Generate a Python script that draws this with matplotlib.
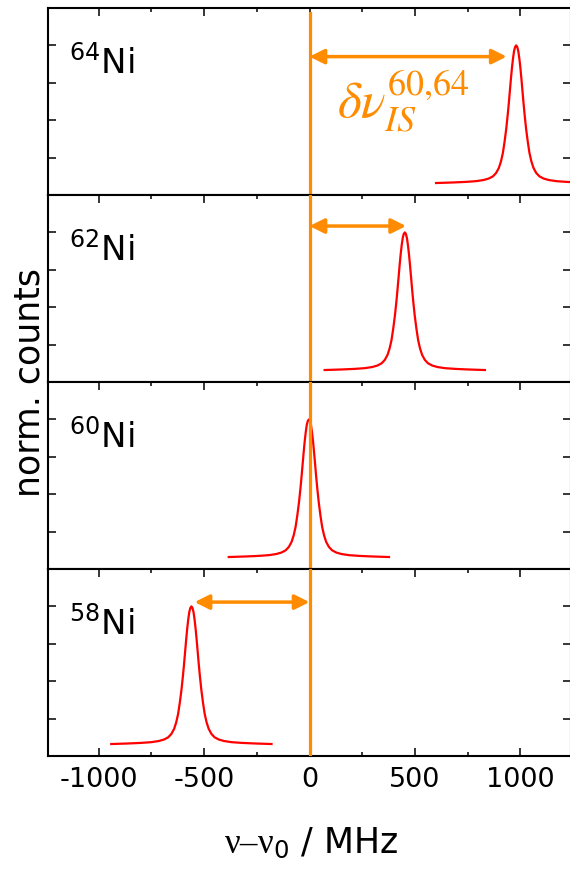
import numpy as np
import matplotlib
matplotlib.use('Agg')
import matplotlib.pyplot as plt
from matplotlib.ticker import MultipleLocator

# isotopes from top to bottom and their line centres (MHz)
isotopes = ['64', '62', '60', '58']
centers = [980, 452, -3, -560]

# line profile (offset from centre in MHz, panel height)
profile_offset = [-380, -300, -240, -190, -155, -130, -110, -95, -82, -72, -63, -55,
                  -47, -40, -35, -30, -25, -20, -15, -10, -5, 0,
                  5, 10, 15, 20, 25, 30, 35, 40, 47, 55, 63, 72, 82, 95, 110,
                  130, 155, 190, 240, 300, 380]
profile_height = [0.064, 0.067, 0.070, 0.074, 0.080, 0.088, 0.100, 0.118, 0.145, 0.180,
                  0.225, 0.285, 0.355, 0.430, 0.490, 0.555, 0.620, 0.680, 0.730, 0.770,
                  0.792, 0.800,
                  0.792, 0.770, 0.730, 0.680, 0.620, 0.555, 0.490, 0.430, 0.355, 0.285,
                  0.225, 0.180, 0.145, 0.118, 0.100, 0.088, 0.080, 0.074, 0.070, 0.067,
                  0.064]

# isotope shift arrows: (start, end, height) per panel, None where absent
arrows = [(0, 935, 0.74), (0, 458, 0.834), None, (-545, 0, 0.823)]
xticks = [-1000, -500, 0, 500, 1000]

orange = '#ff8c00'
plt.rcParams['font.family'] = ['DejaVu Sans']
plt.rcParams['mathtext.fontset'] = 'dejavusans'
plt.rcParams['mathtext.rm'] = 'Liberation Serif'
plt.rcParams['mathtext.it'] = 'Liberation Serif:italic'

fig = plt.figure(figsize=(5.7, 8.69), dpi=100)
left, width = 48 / 570, 523 / 570
ph = 187 / 869
top = 1 - 8 / 869

axes = []
for i in range(4):
    ax = fig.add_axes([left, top - (i + 1) * ph, width, ph])
    axes.append(ax)
    x = np.array(profile_offset) + centers[i]
    ax.plot(x, profile_height, color='red', lw=1.6, zorder=2)
    ymax = 0.973 if i == 0 else 1.0
    ax.axvline(0, ymin=0, ymax=ymax, color=orange, lw=2.3, zorder=3)
    ax.set_xlim(-1240, 1240)
    ax.set_ylim(0, 1)
    ax.set_yticks([0.2, 0.4, 0.6, 0.8])
    ax.xaxis.set_major_locator(MultipleLocator(500))
    ax.xaxis.set_minor_locator(MultipleLocator(250))
    ax.tick_params(axis='both', which='both', direction='in', width=1.1,
                   top=True, right=True, labelleft=False)
    ax.tick_params(axis='x', which='major', length=6)
    ax.tick_params(axis='x', which='minor', length=3)
    ax.tick_params(axis='y', which='major', length=5.5)
    if i < 3:
        ax.tick_params(axis='x', which='both', bottom=False, labelbottom=False)
    else:
        ax.set_xticks(xticks)
        ax.set_xticklabels([str(t) for t in xticks], fontsize=19.5)
        ax.tick_params(axis='x', which='major', pad=8)
    for sp in ax.spines.values():
        sp.set_linewidth(1.5)
    ax.text(-1140, 0.648, r'$^{%s}\mathsf{Ni}$' % isotopes[i], fontsize=24.5,
            va='baseline', ha='left', math_fontfamily='dejavusans')
    if arrows[i] is not None:
        x0, x1, ya = arrows[i]
        ax.annotate('', xy=(x1, ya), xytext=(x0, ya),
                    arrowprops=dict(arrowstyle='<|-|>', color=orange, lw=2.5,
                                    mutation_scale=22, shrinkA=0, shrinkB=0))

axes[0].text(130, 0.41, r'$\delta\nu_{IS}^{60{,}64}$', fontsize=37, color=orange,
             math_fontfamily='stix', va='baseline', ha='left')

fig.text(30 / 570, 1 - 382 / 869, 'norm. counts', rotation=90, fontsize=25,
         ha='center', va='center')
fig.text(311 / 570, 1 - 853 / 869, '$\\mathrm{\u03bd\u2013\u03bd}_{\\mathsf{0}}$ / MHz',
         fontsize=25, ha='center', va='baseline', math_fontfamily='custom')

fig.savefig('out.png', dpi=100)
